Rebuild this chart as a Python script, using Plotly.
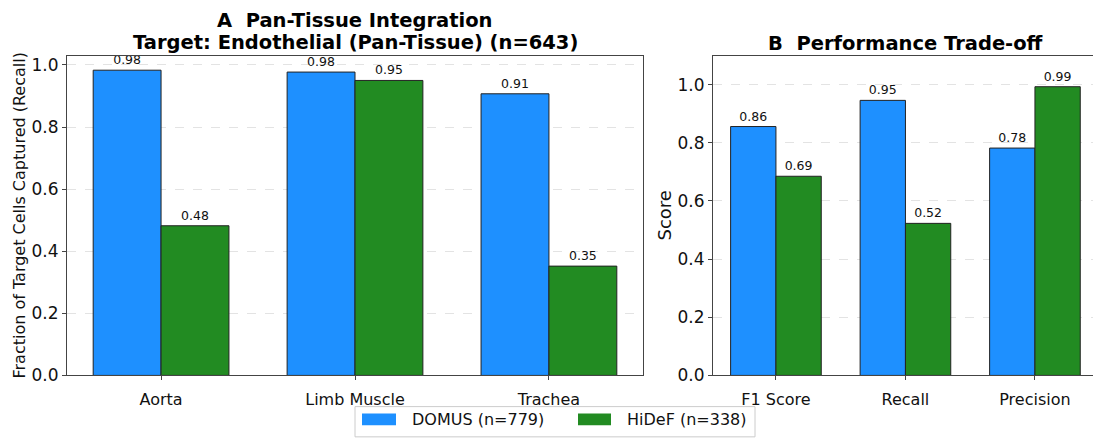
import plotly.graph_objects as go

# ---- data ----
tissues = ["Aorta", "Limb Muscle", "Trachea"]
domus_recall = [0.983, 0.977, 0.907]
hidef_recall = [0.482, 0.950, 0.352]

metrics = ["F1 Score", "Recall", "Precision"]
domus_scores = [0.856, 0.946, 0.782]
hidef_scores = [0.685, 0.523, 0.993]

series_names = ["DOMUS (n=779)", "HiDeF (n=338)"]
colors = ["#1E90FF", "#228B22"]

title_a1 = "<b>A  Pan-Tissue Integration</b>"
title_a2 = "<b>Target: Endothelial (Pan-Tissue) (n=643)</b>"
title_b = "<b>B  Performance Trade-off</b>"
ytitle_a = "Fraction of Target Cells Captured (Recall)"
ytitle_b = "Score"
yticks = [0.0, 0.2, 0.4, 0.6, 0.8, 1.0]

W, H = 1093, 441
FONT = "DejaVu Sans"

fig = go.Figure()

def add_bars(x, vals, name, color, xa, ya):
    fig.add_trace(go.Bar(
        x=x, y=vals, name=name, marker=dict(color=color, line=dict(color="#222", width=1)),
        text=[f"{v:.2f}" for v in vals], textposition="outside", cliponaxis=False,
        textfont=dict(size=12.5, color="#111", family=FONT),
        xaxis=xa, yaxis=ya, showlegend=False, offsetgroup=name,
    ))

add_bars(tissues, domus_recall, series_names[0], colors[0], "x", "y")
add_bars(tissues, hidef_recall, series_names[1], colors[1], "x", "y")
add_bars(metrics, domus_scores, series_names[0], colors[0], "x2", "y2")
add_bars(metrics, hidef_scores, series_names[1], colors[1], "x2", "y2")

px = lambda p: p / W
py = lambda p: (H - p) / H

line_common = dict(showline=True, linecolor="#444", linewidth=1, ticks="outside", ticklen=4,
                   tickcolor="#444", zeroline=False)
xaxis_common = dict(tickfont=dict(size=16, color="#111", family=FONT), ticklabelstandoff=5,
                    showgrid=False, mirror=True, **line_common)
yaxis_common = dict(tickfont=dict(size=17, color="#111", family=FONT), tickvals=yticks,
                    tickformat=".1f", showgrid=True, gridcolor="#e3e3e3", griddash="dash",
                    gridwidth=1, **line_common)

# ---- manual legend (box cut by the bottom edge, wide colour patches) ----
shapes = [dict(type="rect", xref="paper", yref="paper", x0=px(355), x1=px(755),
               y0=py(447), y1=py(416), line=dict(color="#cccccc", width=1),
               fillcolor="white", layer="above")]
annos = []
legend_slots = [(362, 396, 410), (578, 611, 625)]
for (p0, p1, tx), name, col in zip(legend_slots, series_names, colors):
    shapes.append(dict(type="rect", xref="paper", yref="paper", x0=px(p0), x1=px(p1),
                       y0=py(435), y1=py(423), line=dict(width=0), fillcolor=col, layer="above"))
    annos.append(dict(text=name, x=px(tx), y=py(429), xref="paper", yref="paper",
                      xanchor="left", yanchor="middle", showarrow=False,
                      font=dict(size=16, family=FONT, color="#111")))

annos += [
    dict(text=title_a1, x=px(355), y=py(20), xref="paper", yref="paper", xanchor="center",
         yanchor="middle", showarrow=False, font=dict(size=19.5, family=FONT, color="#000")),
    dict(text=title_a2, x=px(355), y=py(43), xref="paper", yref="paper", xanchor="center",
         yanchor="middle", showarrow=False, font=dict(size=19.5, family=FONT, color="#000")),
    dict(text=title_b, x=px(905), y=py(44), xref="paper", yref="paper", xanchor="center",
         yanchor="middle", showarrow=False, font=dict(size=19.5, family=FONT, color="#000")),
    dict(text=ytitle_a, x=px(20), y=py(220), xref="paper", yref="paper", xanchor="center",
         yanchor="middle", textangle=-90, showarrow=False, font=dict(size=16, family=FONT, color="#111")),
    dict(text=ytitle_b, x=px(665), y=py(220), xref="paper", yref="paper", xanchor="center",
         yanchor="middle", textangle=-90, showarrow=False, font=dict(size=18, family=FONT, color="#111")),
]

fig.update_layout(
    width=W, height=H, margin=dict(l=0, r=0, t=0, b=0),
    paper_bgcolor="white", plot_bgcolor="white",
    barmode="group", bargap=0.3, bargroupgap=0,
    font=dict(family=FONT, color="#111"),
    showlegend=False,
    xaxis=dict(domain=[px(67), px(643)], range=[-0.485, 2.485], anchor="y", **xaxis_common),
    yaxis=dict(domain=[py(384), py(56)], range=[0, 1.03], anchor="x", mirror=True, **yaxis_common),
    xaxis2=dict(domain=[px(713), 1.0], range=[-0.486, -0.486 + 380 / 129.5], anchor="y2",
                **xaxis_common),
    yaxis2=dict(domain=[py(384), py(56)], range=[0, 1.1], anchor="x2", mirror=False, **yaxis_common),
    shapes=shapes,
    annotations=annos,
)

fig.write_html("out.html")
